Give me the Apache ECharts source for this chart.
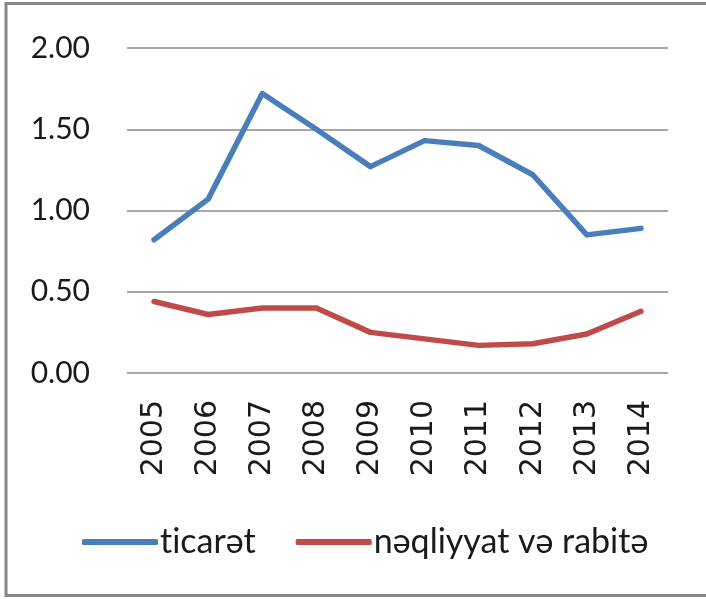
<!DOCTYPE html>
<html>
<head>
<meta charset="utf-8">
<script src="https://cdn.jsdelivr.net/npm/echarts@6/dist/echarts.min.js"></script>
<style>
  html, body { margin: 0; padding: 0; background: #fff; }
  #chart { width: 706px; height: 599px; }
</style>
</head>
<body>
<div id="chart"></div>
<script>
// Years on the category axis
const years = ['2005', '2006', '2007', '2008', '2009', '2010', '2011', '2012', '2013', '2014'];
// Series values
const ticaret = [0.82, 1.07, 1.72, 1.50, 1.27, 1.43, 1.40, 1.22, 0.85, 0.89];
const neqliyyat = [0.44, 0.36, 0.40, 0.40, 0.25, 0.21, 0.17, 0.18, 0.24, 0.38];
// Series names shown in the legend
const seriesNames = ['ticarət', 'nəqliyyat və rabitə'];

const chart = echarts.init(document.getElementById('chart'), null, { renderer: 'canvas' });

const option = {
  animation: false,
  backgroundColor: '#ffffff',
  graphic: [{
    type: 'rect',
    shape: { x: 6, y: 3.5, width: 720, height: 592 },
    style: { fill: 'none', stroke: '#878787', lineWidth: 3 },
    silent: true,
    z: -1
  }],
  grid: { left: 127, right: 38, top: 48, bottom: 226 },
  legend: {
    data: seriesNames,
    left: 77,
    top: 520,
    icon: 'roundRect',
    itemWidth: 76,
    itemHeight: 6,
    itemGap: 40,
    // zero-width non-joiner keeps "t" and "i" as separate glyphs
    formatter: name => name.replace(/ti/g, 't\u200Ci'),
    textStyle: { fontFamily: 'Lato', fontSize: 34, color: '#1a1a1a', padding: [0, 0, 0, -3] }
  },
  xAxis: {
    type: 'category',
    data: years,
    boundaryGap: true,
    axisLine: { show: false },
    axisTick: { show: false },
    axisLabel: {
      rotate: 90,
      margin: 27,
      fontFamily: 'DejaVu Sans',
      fontSize: 30,
      color: '#1a1a1a'
    }
  },
  yAxis: {
    type: 'value',
    min: 0,
    max: 2,
    interval: 0.5,
    axisLine: { show: false },
    axisTick: { show: false },
    splitLine: { lineStyle: { color: '#8a8a8a', width: 1.5 } },
    axisLabel: {
      margin: 37,
      fontFamily: 'Lato',
      fontSize: 30,
      color: '#1a1a1a',
      formatter: v => v.toFixed(2)
    }
  },
  series: [
    {
      name: seriesNames[0],
      type: 'line',
      data: ticaret,
      symbol: 'none',
      lineStyle: { color: '#4a7ebb', width: 5.5, join: 'round', cap: 'round' },
      itemStyle: { color: '#4a7ebb' }
    },
    {
      name: seriesNames[1],
      type: 'line',
      data: neqliyyat,
      symbol: 'none',
      lineStyle: { color: '#be4b48', width: 5.5, join: 'round', cap: 'round' },
      itemStyle: { color: '#be4b48' }
    }
  ]
};

chart.setOption(option);
</script>
</body>
</html>
